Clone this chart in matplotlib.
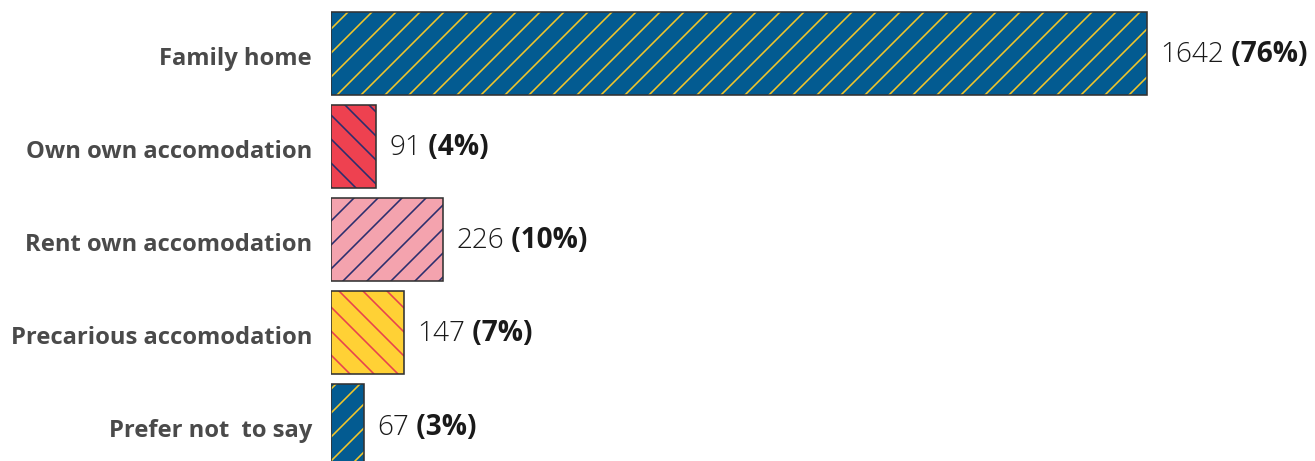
import matplotlib
matplotlib.use("Agg")
import matplotlib.pyplot as plt

categories = ["Family home", "Own own accomodation", "Rent own accomodation",
              "Precarious accomodation", "Prefer not  to say"]
counts = [1642, 91, 226, 147, 67]
percents = [76, 4, 10, 7, 3]

fill_colors = ["#035B91", "#EE4150", "#F4A3AE", "#FFD135", "#035B91"]
hatch_colors = ["#F2C62A", "#2B2E6E", "#2B2E6E", "#E8424E", "#F2C62A"]
hatches = ["//", "\\\\", "//", "\\\\", "//"]

plt.rcParams["font.family"] = ["Open Sans", "DejaVu Sans"]
plt.rcParams["hatch.linewidth"] = 0.8

DPI = 144
fig = plt.figure(figsize=(1315 / DPI, 461 / DPI), dpi=DPI)
ax = fig.add_axes([331 / 1315, 0, 1 - 331 / 1315, 1])

y = list(range(len(categories)))
for yi, c, fc, hc, h in zip(y, counts, fill_colors, hatch_colors, hatches):
    # hatched fill (hatch uses the edge colour), then a dark outline on top
    ax.barh(yi, c, height=0.89, color=fc, edgecolor=hc, hatch=h, linewidth=0)
    ax.barh(yi, c, height=0.89, fill=False, edgecolor="#333333", linewidth=0.8)

for yi, c, p in zip(y, counts, percents):
    t = ax.annotate(f"{c}", xy=(c, yi + 0.02), xytext=(6.5, 0), textcoords="offset points",
                    va="center", ha="left", fontsize=14, fontweight="light",
                    color="#1a1a1a")
    ax.annotate(f" ({p}%)", xy=(1, 0), xycoords=t, va="bottom", ha="left",
                fontsize=14, fontweight="bold", color="#1a1a1a")

ax.set_xlim(0, 1980)
ax.set_ylim(4.38, -0.575)
ax.set_yticks([v + 0.03 for v in y])
ax.set_yticklabels(categories, fontsize=11.9, fontweight="bold", color="#4a4a4a")
ax.tick_params(axis="y", length=0, pad=9.5)
ax.set_xticks([])
for s in ax.spines.values():
    s.set_visible(False)

fig.savefig("out.png", dpi=DPI, facecolor="white")
